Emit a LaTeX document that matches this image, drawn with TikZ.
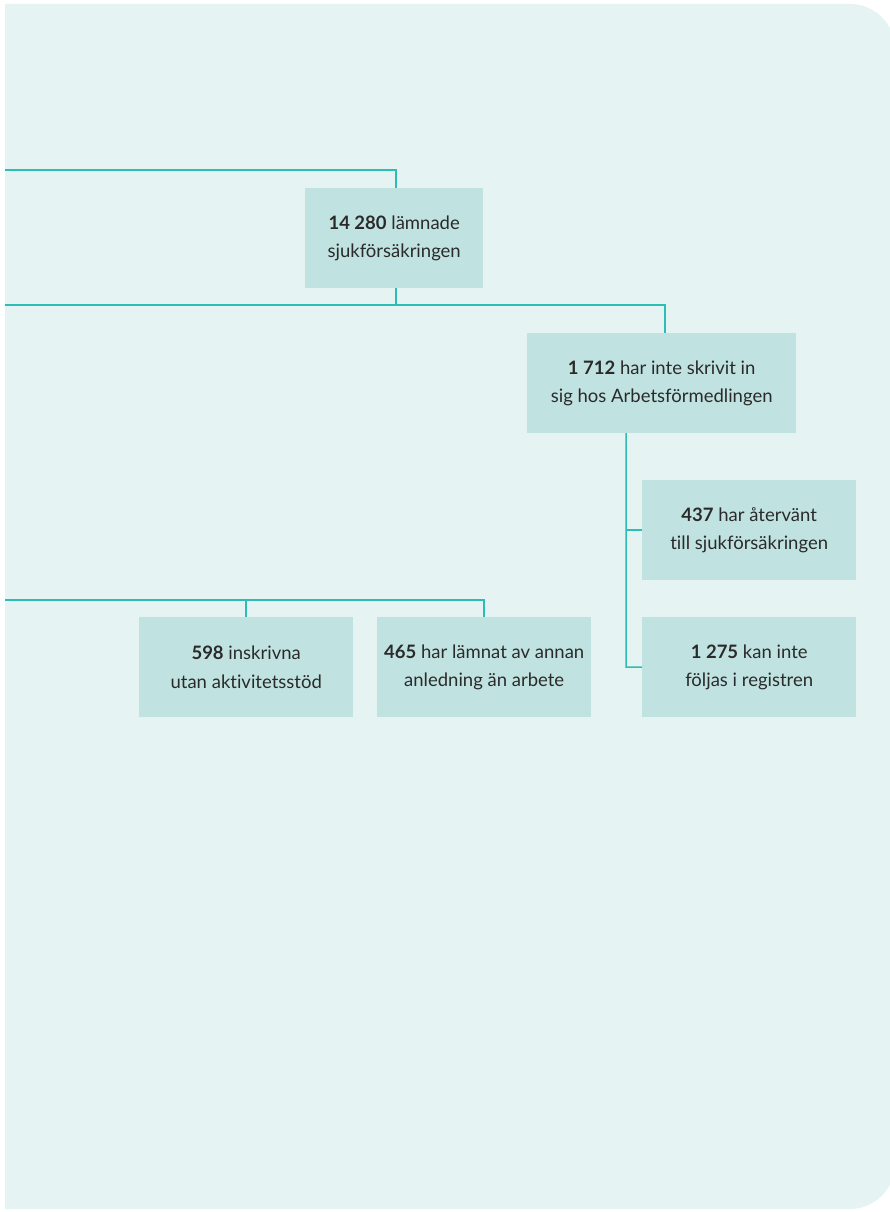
\documentclass[tikz,border=0pt]{standalone}
\usepackage{fontspec}
\setmainfont{Lato}[Ligatures=NoCommon]
\definecolor{bgc}{HTML}{E6F3F3}
\definecolor{boxc}{HTML}{C0E3E1}
\definecolor{linec}{HTML}{2CBDB4}
\definecolor{txtc}{HTML}{2A2A2A}
\tikzset{
  box/.style={fill=boxc, draw=none, inner sep=0pt, align=center, text=txtc,
    font=\fontsize{18.5}{28.5}\selectfont, anchor=north west},
  conn/.style={draw=linec, line width=1.5pt}
}
\begin{document}
\begin{tikzpicture}[x=1pt,y=-1pt]
\useasboundingbox (0,0) rectangle (889,1212);
\fill[bgc] (5,4) -- (850,4) arc[start angle=-90,end angle=0,radius=45] -- (895,1164) arc[start angle=0,end angle=90,radius=45] -- (5,1209) -- cycle;

\node[box, minimum width=178pt, minimum height=100pt] (b1) at (305,188) {\textbf{14 280} lämnade\\sjukförsäkringen};
\node[box, minimum width=269pt, minimum height=100pt] (b2) at (527,333) {\textbf{1 712} har inte skrivit in\\sig hos Arbetsförmedlingen};
\node[box, minimum width=214pt, minimum height=100pt] (b3) at (642,480) {\textbf{437} har återvänt\\till sjukförsäkringen};
\node[box, minimum width=214pt, minimum height=100pt] (b4) at (642,617) {\textbf{1 275} kan inte\\följas i registren};
\node[box, minimum width=214pt, minimum height=100pt] (b5) at (139,617) {\textbf{598} inskrivna\\utan aktivitetsstöd};
\node[box, minimum width=214pt, minimum height=100pt] (b6) at (377,617) {\textbf{465} har lämnat av annan\\anledning än arbete};

\coordinate (t1) at (5,170);
\coordinate (t2) at (5,305);
\coordinate (t3) at (5,600);
\coordinate (v2) at (626,433);
\coordinate (v2b) at (626,667);

\draw[conn] (t1) -| ([xshift=2pt]b1.north);
\draw[conn] ([xshift=2pt]b1.south) -- ([xshift=2pt]b1.south |- t2);
\draw[conn] (t2) -| ([xshift=3.5pt]b2.north);
\draw[conn] (v2) -- (v2b) -- (b4.west);
\draw[conn] (v2 |- b3.west) -- (b3.west);
\draw[conn] (t3) -| (b6.north);
\draw[conn] (b5.north |- t3) -- (b5.north);
\end{tikzpicture}
\end{document}
